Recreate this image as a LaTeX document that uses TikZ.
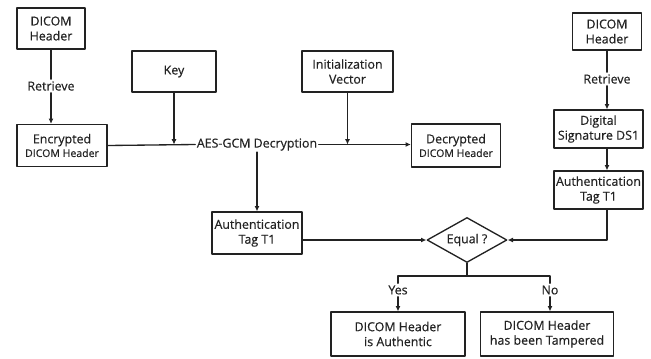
\documentclass[tikz,border=0pt]{standalone}
\usepackage{fontspec}
\setmainfont{Open Sans}
\newfontfamily\diagfont{Open Sans}[FakeBold=0.45]
\usetikzlibrary{arrows.meta,shapes.geometric}
\definecolor{ink}{HTML}{222222}
\newcommand{\subtxt}[1]{{\fontsize{7.9}{9.5}\selectfont #1}}

\begin{document}
\begin{tikzpicture}[x=0.75pt,y=-0.75pt,font=\diagfont\fontsize{9.3}{11.2}\selectfont,
    >={Latex[length=4pt,width=3.8pt]},line cap=round,line join=round,
    box/.style={draw=ink,line width=1pt,align=center,inner sep=1pt,text=ink},
    lbl/.style={text=ink,inner sep=1.5pt},
    link/.style={draw=ink,line width=1pt}]
  \useasboundingbox (0,0) rectangle (651,358);

  % Left column: encrypted header
  \node[box,minimum width=51pt,minimum height=30.75pt] (dhL) at (51,28.5) {DICOM\\Header};
  \node[lbl] (retL) at (51,86) {Retrieve};
  \node[box,minimum width=67.5pt,minimum height=31.5pt] (encr) at (62,145.5)
    {Encrypted\\[-1pt]\subtxt{DICOM Header}};

  % Key, IV and the decryption
  \node[box,minimum width=63pt,minimum height=30.75pt] (key) at (174,71.5) {Key};
  \node[box,minimum width=68.25pt,minimum height=30.75pt] (iv) at (347.5,71.5)
    {Initialization\\Vector};
  \node[lbl,inner sep=1pt] (aes) at (257,144.5) {AES-GCM Decryption};
  \node[box,minimum width=66.75pt,minimum height=32.25pt] (decr) at (456,145.5)
    {Decrypted\\[-1pt]\subtxt{DICOM Header}};
  \node[box,minimum width=67.5pt,minimum height=31.5pt] (tagM) at (257,233)
    {Authentication\\Tag T1};

  % Right column: signature
  \node[box,minimum width=51.75pt,minimum height=27.75pt] (dhR) at (607,31.5) {DICOM\\Header};
  \node[lbl] (retR) at (607,79) {Retrieve};
  \node[box,minimum width=66.75pt,minimum height=28.5pt] (ds) at (598.5,129)
    {Digital\\Signature DS1};
  \node[box,minimum width=66.75pt,minimum height=28.5pt] (tagR) at (598.5,190)
    {Authentication\\Tag T1};

  % Comparison and outcome
  \node[box,diamond,aspect=1.8,minimum width=60pt,minimum height=33.75pt] (eq) at (467,240)
    {Equal ?};
  \coordinate (fork) at (467,276);
  \node[lbl] (yes) at (398,290) {Yes};
  \node[lbl] (no) at (550,290) {No};
  \node[box,minimum width=100.5pt,minimum height=33pt] (auth) at (398,334)
    {DICOM Header\\is Authentic};
  \node[box,minimum width=99.75pt,minimum height=33pt] (tamp) at (547,334)
    {DICOM Header\\has been Tampered};

  % Connectors
  \draw[link] (dhL) -- (retL);
  \draw[link,->] (retL) -- (dhL |- encr.north);
  \draw[link] (encr.east) -- (aes.west);
  \draw[link,->] (key) -- (key |- aes);
  \draw[link,->] (iv) -- (iv |- aes);
  \draw[link,->] (aes.east) -- (decr.west |- aes);
  \draw[link,->] (aes) -- (tagM);
  \draw[link,->] (tagM.east |- eq) -- (eq.west);
  \draw[link] (dhR) -- (retR);
  \draw[link,->] (retR) -- (dhR |- ds.north);
  \draw[link,->] (dhR |- ds.south) -- (dhR |- tagR.north);
  \draw[link,->] (dhR |- tagR.south) |- (eq.east);
  \draw[link] (eq) -- (fork);
  \draw[link] (fork) -| (yes.north);
  \draw[link] (fork) -| (no.north);
  \draw[link,->] (yes) -- (auth);
  \draw[link,->] (no) -- (no |- tamp.north);
\end{tikzpicture}
\end{document}
